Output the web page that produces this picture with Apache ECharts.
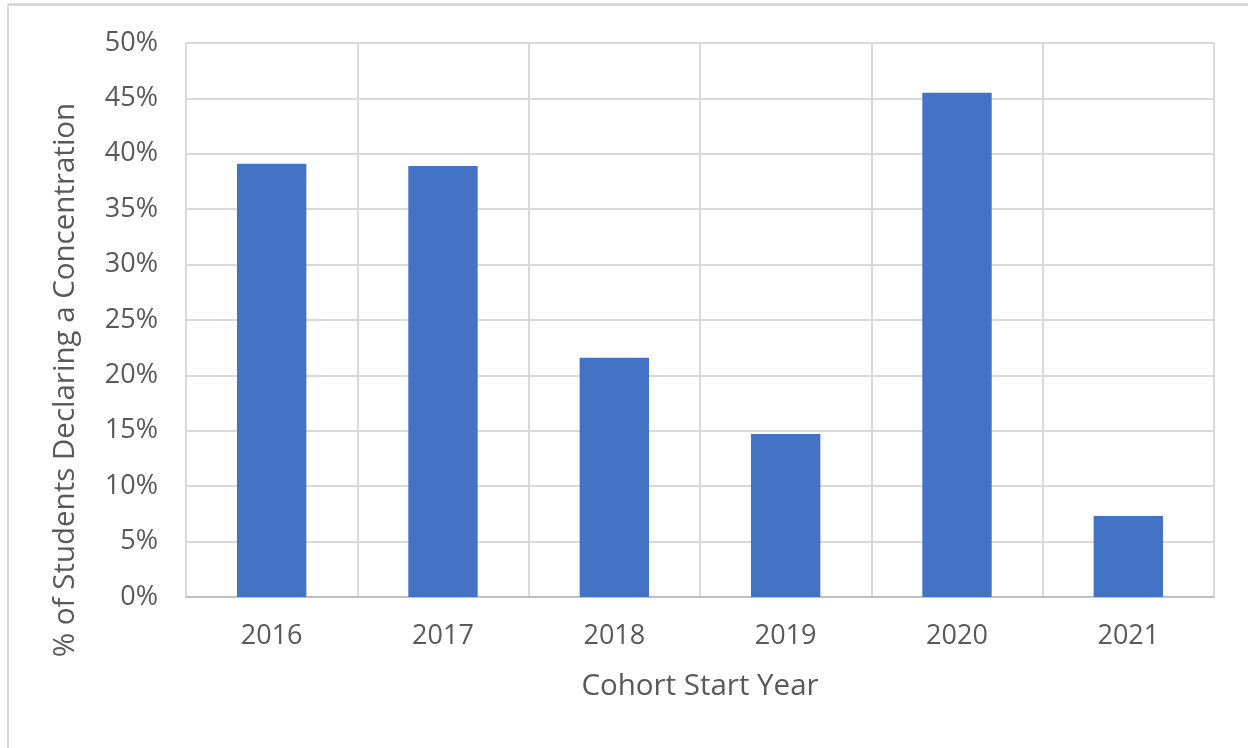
<!DOCTYPE html>
<html>
<head>
<meta charset="utf-8">
<script src="https://cdn.jsdelivr.net/npm/echarts@6/dist/echarts.min.js"></script>
<style>
html,body{margin:0;padding:0;background:#fff;}
#chart{width:1248px;height:748px;}
</style>
</head>
<body>
<div id="chart"></div>
<script>
const categories = ['2016', '2017', '2018', '2019', '2020', '2021'];
const values = [39.1, 38.9, 21.6, 14.7, 45.5, 7.3];
const yTicks = { min: 0, max: 50, interval: 5 };
const xTitle = 'Cohort Start Year';
const yTitle = '% of Students Declaring a Concentration';

const FONT = '"Open Sans", "Noto Sans", sans-serif';
const TXT = '#595959';
const chart = echarts.init(document.getElementById('chart'));
chart.setOption({
  backgroundColor: '#ffffff',
  animation: false,
  graphic: [
    { type: 'line', shape: { x1: 8, y1: 4.5, x2: 1248, y2: 4.5 }, style: { stroke: '#d9d9d9', lineWidth: 3 } },
    { type: 'line', shape: { x1: 8, y1: 4.5, x2: 8, y2: 748 }, style: { stroke: '#d9d9d9', lineWidth: 2 } },
    { type: 'text', x: 66, y: 380, rotation: Math.PI / 2,
      style: { text: yTitle, fontFamily: FONT, fontSize: 29.5, fill: TXT, align: 'center', verticalAlign: 'middle' } }
  ],
  grid: { left: 186, right: 34, top: 43, bottom: 151 },
  xAxis: {
    type: 'category',
    data: categories,
    boundaryGap: true,
    name: xTitle,
    nameLocation: 'middle',
    nameGap: 75,
    nameTextStyle: { fontFamily: FONT, fontSize: 29.5, color: TXT },
    axisLine: { show: true, lineStyle: { color: '#bfbfbf', width: 2 } },
    axisTick: { show: false },
    axisLabel: { fontFamily: FONT, fontSize: 27, color: TXT, margin: 26 },
    splitLine: { show: true, lineStyle: { color: '#d9d9d9', width: 2 } }
  },
  yAxis: {
    type: 'value',
    min: yTicks.min, max: yTicks.max, interval: yTicks.interval,
    axisLine: { show: false },
    axisTick: { show: false },
    axisLabel: { fontFamily: FONT, fontSize: 27, color: TXT, margin: 28, formatter: '{value}%' },
    splitLine: { show: true, lineStyle: { color: '#d9d9d9', width: 2 } }
  },
  series: [{
    type: 'bar',
    data: values,
    barWidth: '40.5%',
    itemStyle: { color: '#4472C4' }
  }]
});
</script>
</body>
</html>
